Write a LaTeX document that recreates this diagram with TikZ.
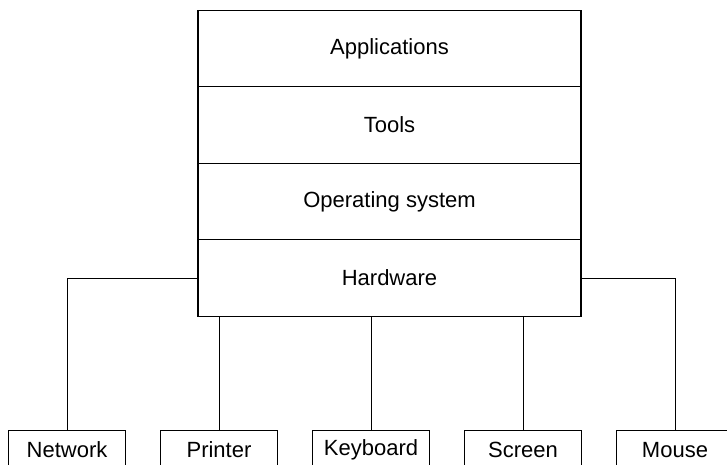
\documentclass[tikz,border=0pt]{standalone}
\usepackage{fontspec}
\setmainfont{Liberation Sans}
\usepackage{tikz}
\usetikzlibrary{positioning}

\begin{document}
\begin{tikzpicture}[x=1pt,y=-1pt,
    couche/.style={draw,line width=1.1pt,minimum width=383pt,minimum height=76.5pt,
                   outer sep=0pt,inner sep=0pt,font=\fontsize{22}{26}\selectfont},
    peripherique/.style={draw,line width=0.9pt,minimum width=117pt,minimum height=40pt,
                   outer sep=0pt,inner sep=0pt,font=\fontsize{22}{26}\selectfont},
    lien/.style={line width=0.9pt}]
    \useasboundingbox (0,0) rectangle (727,464);
    \clip (0,0) rectangle (727,464);
    % pile des couches
    \node[couche] (apps) at (389.5,48.5) {Applications};
    \node[couche,below=0pt of apps]  (tools)    {Tools};
    \node[couche,below=0pt of tools] (os)       {Operating system};
    \node[couche,below=0pt of os]    (hardware) {Hardware};
    % peripheriques, rangee du bas
    \node[peripherique] (network)  at (67,450)  {Network};
    \node[peripherique] (printer)  at (219,450) {Printer};
    \node[peripherique] (keyboard) at (371,450) {Keyboard};
    \node[peripherique] (screen)   at (523,450) {Screen};
    \node[peripherique] (mouse)    at (675,450) {Mouse};
    % liaisons vers le materiel
    \draw[lien] (hardware.west) -| (network.north);
    \draw[lien] (hardware.east) -| (mouse.north);
    \draw[lien] (printer.north)  -- (printer.north  |- hardware.south);
    \draw[lien] (keyboard.north) -- (keyboard.north |- hardware.south);
    \draw[lien] (screen.north)   -- (screen.north   |- hardware.south);
\end{tikzpicture}
\end{document}
